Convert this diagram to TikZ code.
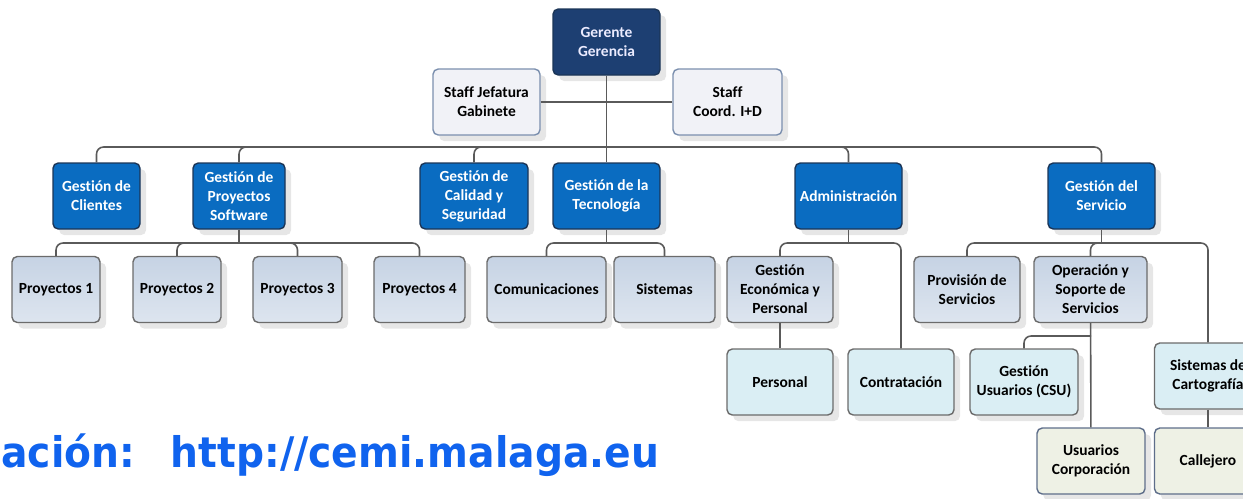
\documentclass[tikz,border=0pt]{standalone}
\usepackage{fontspec}
\setmainfont[Ligatures=NoCommon]{Carlito}
\newfontfamily\webfont[FakeStretch=0.93]{DejaVu Sans}
\usetikzlibrary{shadows}

\definecolor{navy}{HTML}{1D3F72}
\definecolor{azul}{HTML}{0A6CC1}
\definecolor{bordeazul}{HTML}{1B3557}
\definecolor{staffgris}{HTML}{F1F2F7}
\definecolor{staffborde}{HTML}{7B8FAE}
\definecolor{secarriba}{HTML}{C6D3E4}
\definecolor{secabajo}{HTML}{DDE5EF}
\definecolor{uniazul}{HTML}{DAEEF4}
\definecolor{subverde}{HTML}{EEF1E5}
\definecolor{subborde}{HTML}{5E6E8A}
\definecolor{linea}{HTML}{5A5A5A}
\definecolor{urlazul}{HTML}{1063EE}

\begin{document}
\begin{tikzpicture}[x=0.02cm, y=-0.02cm,
  every node/.style={font=\bfseries\fontsize{8.8}{10.8}\selectfont, align=center},
  caja/.style={rounded corners=3pt, minimum height=1.32cm, inner sep=2pt, line width=0.8pt,
    drop shadow={shadow xshift=3.5pt, shadow yshift=-3.5pt, fill=black!12, opacity=0.8}},
  ancho/.style={minimum width=#1*0.02cm},
  gerente/.style={caja, fill=navy, draw=bordeazul, text=white!92!blue},
  staff/.style={caja, fill=staffgris, draw=staffborde},
  area/.style={caja, fill=azul, draw=bordeazul, text=white},
  seccion/.style={caja, top color=secarriba, bottom color=secabajo, draw=black!58},
  unidad/.style={caja, fill=uniazul, draw=black!58},
  subunidad/.style={caja, fill=subverde, draw=subborde},
  conector/.style={draw=linea, line width=0.9pt, rounded corners=4pt}]

\useasboundingbox (0,0) rectangle (1243,498);

% Direccion y staff
\node[gerente, ancho=107] (ger) at (606.5,42) {Gerente\\Gerencia};
\node[staff, ancho=107] (jef) at (486.5,102) {Staff Jefatura\\Gabinete};
\node[staff, ancho=109] (coo) at (727.5,102) {Staff\\Coord. I+D};

% Areas
\node[area, ancho=87] (cli) at (96.5,196) {Gestión de\\Clientes};
\node[area, ancho=92] (ps) at (239,196) {Gestión de\\Proyectos\\Software};
\node[area, ancho=108] (cal) at (474,196) {Gestión de\\Calidad y\\Seguridad};
\node[area, ancho=107] (tec) at (606.5,196) {Gestión de la\\Tecnología};
\node[area, ancho=107] (adm) at (848.5,196) {Administración};
\node[area, ancho=107] (srv) at (1101.5,196) {Gestión del\\Servicio};

% Secciones
\node[seccion, ancho=88] (p1) at (56,289.5) {Proyectos 1};
\node[seccion, ancho=88] (p2) at (177,289.5) {Proyectos 2};
\node[seccion, ancho=89] (p3) at (297.5,289.5) {Proyectos 3};
\node[seccion, ancho=91] (p4) at (419.5,289.5) {Proyectos 4};
\node[seccion, ancho=119] (com) at (546.5,289.5) {Comunicaciones};
\node[seccion, ancho=101] (sis) at (664.5,289.5) {Sistemas};
\node[seccion, ancho=106] (eco) at (780,289.5) {Gestión\\Económica y\\Personal};
\node[seccion, ancho=106] (prv) at (967,289.5) {Provisión de\\Servicios};
\node[seccion, ancho=113] (ope) at (1090.5,289.5) {Operación y\\Soporte de\\Servicios};

% Unidades
\node[unidad, ancho=106] (per) at (780,382) {Personal};
\node[unidad, ancho=106] (con) at (901,382) {Contratación};
\node[unidad, ancho=108] (csu) at (1024,382) {Gestión\\Usuarios (CSU)};
\node[unidad, ancho=107] (car) at (1208,376) {Sistemas de\\Cartografía};

% Subunidades
\node[subunidad, ancho=108] (uco) at (1091,461) {Usuarios\\Corporación};
\node[subunidad, ancho=107] (cjo) at (1208,461) {Callejero};

% Buses
\coordinate (b1) at (606.5,147);
\coordinate (b2) at (239,243);
\coordinate (b3) at (606.5,243);
\coordinate (b4) at (848.5,243);
\coordinate (b5) at (1101.5,243);
\coordinate (b6) at (1091,336);

% Conectores
\draw[conector] (ger) -- (tec);
\draw[conector] (jef.east) -- (ger.south |- jef.east);
\draw[conector] (coo.west) -- (ger.south |- coo.west);
\draw[conector] (cli.north) |- (b1) -| (srv.north);
\draw[conector] (ps.north) |- (b1);
\draw[conector] (cal.north) |- (b1);
\draw[conector] (adm.north) |- (b1);

\draw[conector] (ps.south) -- (b2);
\draw[conector] (p1.north) |- (b2) -| (p4.north);
\draw[conector] (p2.north) |- (b2);
\draw[conector] (p3.north) |- (b2);

\draw[conector] (tec.south) -- (b3);
\draw[conector] (com.north) |- (b3) -| (sis.north);

\draw[conector] (adm.south) -- (b4);
\draw[conector] (eco.north) |- (b4) -| (con.north);
\draw[conector] (eco) -- (per);

\draw[conector] (srv.south) -- (b5);
\draw[conector] (prv.north) |- (b5) -| (car.north);
\draw[conector] (ope.north) |- (b5);
\draw[conector] (ope) -- (uco);
\draw[conector] (csu.north) |- (b6);
\draw[conector] (car) -- (cjo);

% Direccion web
\node[anchor=base west, inner sep=0, text=urlazul, font=\webfont\bfseries\fontsize{24}{28}\selectfont] (web) at (1,467) {ación:\hspace{0.85em}http://cemi.malaga.eu};

\end{tikzpicture}
\end{document}
